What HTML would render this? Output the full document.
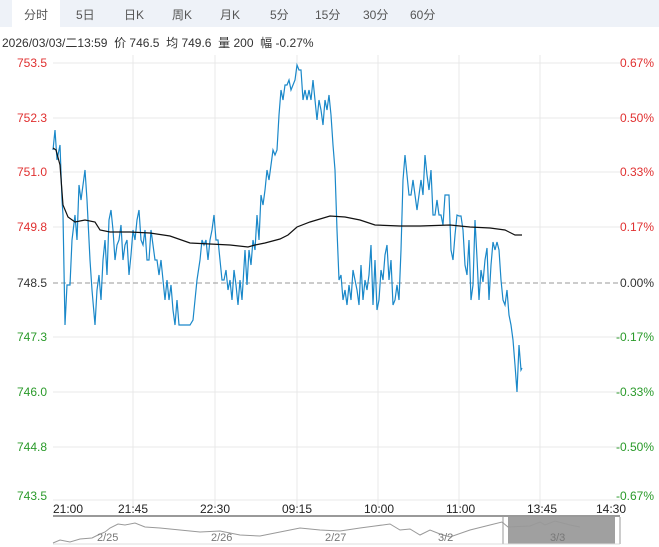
<!DOCTYPE html>
<html><head><meta charset="utf-8"><style>
body{margin:0;width:659px;height:547px;background:#fff;overflow:hidden;font-family:"Liberation Sans","Noto Sans CJK SC",sans-serif;}
.tabs{position:absolute;left:0;top:0;width:659px;height:27px;background:#eef2f8;}
.tab{position:absolute;top:6px;font-size:12px;color:#555;}
</style></head><body>
<div class="tabs">
<div style="position:absolute;left:12px;top:0;width:48px;height:27px;background:#fff"></div>
<span class="tab" style="left:24px">分时</span>
<span class="tab" style="left:76px">5日</span>
<span class="tab" style="left:124px">日K</span>
<span class="tab" style="left:172px">周K</span>
<span class="tab" style="left:220px">月K</span>
<span class="tab" style="left:270px">5分</span>
<span class="tab" style="left:315px">15分</span>
<span class="tab" style="left:363px">30分</span>
<span class="tab" style="left:410px">60分</span>
</div>
<div style="position:absolute;left:2px;top:34px;font-size:12px;color:#333;white-space:nowrap">2026/03/03/二13:59&nbsp; 价 746.5&nbsp; 均 749.6&nbsp; 量 200&nbsp; 幅 -0.27%</div>
<svg width="659" height="547" style="position:absolute;left:0;top:0" font-family="Liberation Sans, sans-serif" font-size="12">
<g stroke="#e8e8e8" stroke-width="1">
<line x1="53" y1="63" x2="620" y2="63"/><line x1="53" y1="118" x2="620" y2="118"/><line x1="53" y1="172" x2="620" y2="172"/><line x1="53" y1="227" x2="620" y2="227"/><line x1="53" y1="337" x2="620" y2="337"/><line x1="53" y1="392" x2="620" y2="392"/><line x1="53" y1="447" x2="620" y2="447"/><line x1="53" y1="500" x2="620" y2="500"/>
<line x1="133" y1="55" x2="133" y2="507"/><line x1="215" y1="55" x2="215" y2="507"/><line x1="297" y1="55" x2="297" y2="507"/><line x1="378" y1="55" x2="378" y2="507"/><line x1="459" y1="55" x2="459" y2="507"/><line x1="540" y1="55" x2="540" y2="507"/>
</g>
<line x1="53" y1="283" x2="620" y2="283" stroke="#999" stroke-dasharray="5,3"/>
<g fill="#e03030" text-anchor="end"><text x="47" y="67">753.5</text><text x="47" y="122">752.3</text><text x="47" y="176">751.0</text><text x="47" y="231">749.8</text></g>
<text x="47" y="287" text-anchor="end" fill="#333">748.5</text>
<g fill="#2a9a2a" text-anchor="end"><text x="47" y="341">747.3</text><text x="47" y="396">746.0</text><text x="47" y="451">744.8</text><text x="47" y="500">743.5</text></g>
<g fill="#e03030" text-anchor="end"><text x="654" y="67">0.67%</text><text x="654" y="122">0.50%</text><text x="654" y="176">0.33%</text><text x="654" y="231">0.17%</text></g>
<text x="654" y="287" text-anchor="end" fill="#333">0.00%</text>
<g fill="#2a9a2a" text-anchor="end"><text x="654" y="341">-0.17%</text><text x="654" y="396">-0.33%</text><text x="654" y="451">-0.50%</text><text x="654" y="500">-0.67%</text></g>
<polyline fill="none" stroke="#1a88c9" stroke-width="1.2" points="53,150 55,130 57,160 60,145 62,200 63,215 65,325 67,285 70,285 72,240 75,215 77,240 79,185 81,200 83,185 85,170 87,200 88,220 90,260 92,290 95,325 97,290 99,275 101,300 103,260 105,240 107,275 109,220 111,210 113,230 115,260 117,245 119,240 121,225 123,260 125,245 127,240 129,275 131,255 133,230 135,240 137,220 139,210 141,240 143,245 145,230 147,260 149,260 151,230 153,245 155,260 157,260 159,275 161,260 163,280 165,300 167,280 169,300 171,285 173,310 175,325 177,300 179,325 181,325 185,325 190,325 193,320 195,300 197,280 200,260 202,240 204,245 206,240 208,260 210,240 212,230 214,215 216,240 218,240 220,260 222,280 224,280 226,270 228,290 230,280 232,300 234,270 236,285 238,305 240,280 242,300 245,250 247,285 249,250 251,265 253,240 255,250 257,215 259,240 261,195 263,205 265,190 267,170 269,180 271,165 273,150 275,155 277,150 279,115 281,90 283,100 285,85 287,85 289,80 291,90 295,80 297,65 299,70 301,70 303,100 305,90 307,100 309,90 311,100 313,80 315,100 317,120 319,100 321,110 323,125 325,100 327,110 329,95 331,115 333,145 335,170 337,230 339,280 341,275 343,300 345,290 347,305 349,285 351,300 353,270 355,280 357,290 359,305 361,265 363,300 365,280 367,290 369,275 371,245 373,305 375,260 377,310 379,300 381,270 383,280 385,255 387,245 389,280 391,260 393,305 395,300 397,285 399,300 401,250 403,180 405,155 407,175 409,195 411,195 413,180 415,195 417,210 419,195 421,180 423,195 425,155 427,175 429,190 431,170 433,215 435,215 437,200 439,215 441,215 443,225 445,195 447,195 449,195 451,250 453,260 455,235 457,215 459,216 461,216 463,230 465,265 467,275 469,240 471,300 473,285 475,220 477,258 479,300 481,270 483,282 485,260 487,248 489,300 491,265 493,242 495,250 497,242 499,250 501,280 503,300 505,305 507,290 509,315 511,325 513,340 515,365 517,392 519,345 521,370 522,368"/>
<polyline fill="none" stroke="#111" stroke-width="1.2" points="53,148 56,150 60,165 63,205 68,217 75,222 85,220 95,222 100,230 110,232 130,232 150,233 170,236 190,243 210,244 230,245 248,247 255,245 265,243 280,239 288,235 297,227 310,222 330,216 345,217 360,220 375,225 400,226 420,226 450,225 470,227 490,228 505,230 515,235 522,235"/>
<line x1="53" y1="516" x2="620" y2="516" stroke="#333"/>
<g fill="#222" font-size="12"><text x="53" y="513">21:00</text><text x="118" y="513">21:45</text><text x="200" y="513">22:30</text><text x="282" y="513">09:15</text><text x="364" y="513">10:00</text><text x="446" y="513">11:00</text><text x="527" y="513">13:45</text><text x="596" y="513">14:30</text></g>
<rect x="508" y="517" width="107" height="27" fill="#a0a0a0"/>
<line x1="53" y1="544" x2="620" y2="544" stroke="#ddd"/>
<line x1="503" y1="517" x2="503" y2="544" stroke="#ccc" stroke-width="2"/><line x1="620" y1="517" x2="620" y2="544" stroke="#ccc" stroke-width="2"/>
<polyline fill="none" stroke="#999" stroke-width="1" points="53,543 60,540 70,542 80,539 92,538 98,535 105,532 110,528 118,524 125,525 135,523 145,527 160,528 180,530 200,532 220,531 240,535 260,536 280,532 300,528 320,530 340,531 360,528 375,526 390,524 400,530 410,529 420,535 430,530 440,534 450,537 470,530 490,525 502,522 508,527 530,526 540,522 545,525 555,521 570,525 580,527"/>
<g fill="#777" font-size="11"><text x="97" y="541">2/25</text><text x="211" y="541">2/26</text><text x="325" y="541">2/27</text><text x="438" y="541">3/2</text><text x="550" y="541">3/3</text></g>
</svg>
</body></html>
